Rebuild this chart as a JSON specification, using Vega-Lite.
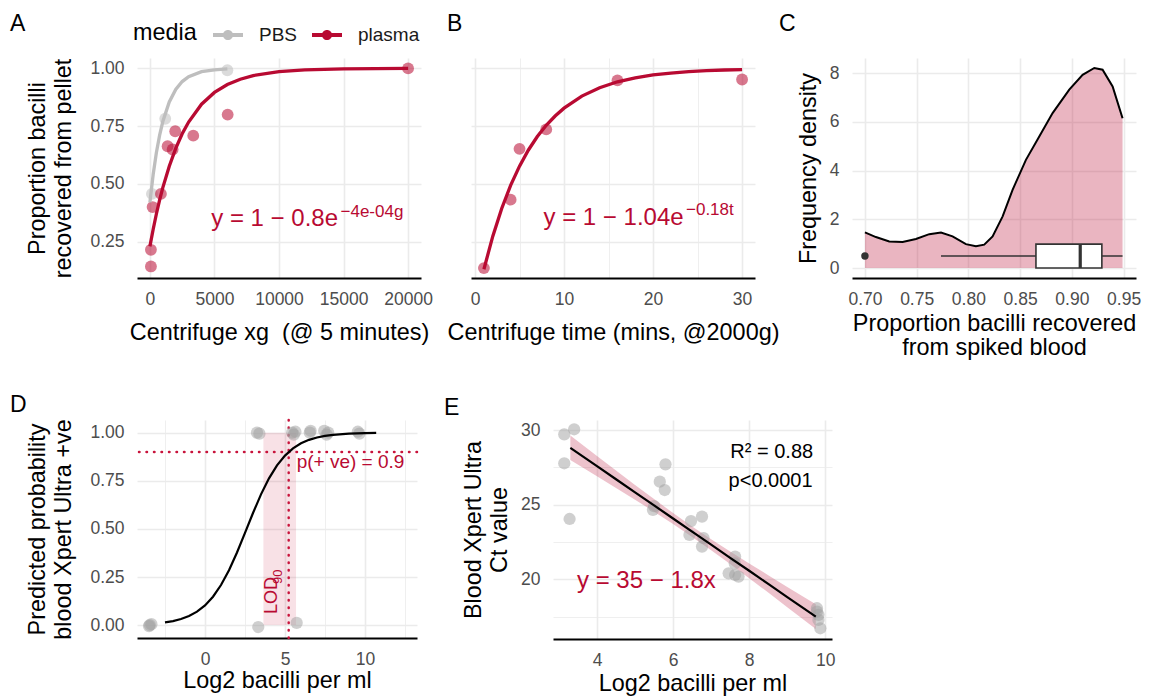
{
  "$schema": "https://vega.github.io/schema/vega-lite/v6.json",
  "padding": {"left": 10, "top": 13, "right": 5, "bottom": 5},
  "config": {
    "font": "Liberation Sans",
    "view": {"stroke": null},
    "axis": {"domain": false, "ticks": false, "tickSize": 0, "grid": true, "gridColor": "#EBEBEB", "labelFont": "Liberation Sans", "labelFontSize": 17.5, "labelColor": "#4D4D4D", "titleFont": "Liberation Sans", "titleFontSize": 23.4, "titleFontWeight": "normal", "titleColor": "#000000", "labelFlush": false, "labelOverlap": false, "titleLineHeight": 26},
    "axisX": {"domain": true, "domainColor": "#000000", "domainWidth": 2.2, "labelPadding": 12, "titlePadding": 14},
    "axisY": {"labelPadding": 13, "titlePadding": 14},
    "title": {"font": "Liberation Sans", "fontSize": 23, "fontWeight": "normal", "anchor": "start", "frame": "group", "offset": 0, "baseline": "alphabetic", "color": "#000000"},
    "text": {"font": "Liberation Sans"}
  },
  "datasets": {
    "curveA": [
      {"media": "PBS", "g": 0, "p": 0.42}, {"media": "PBS", "g": 250, "p": 0.54}, {"media": "PBS", "g": 500, "p": 0.635}, {"media": "PBS", "g": 750, "p": 0.71}, {"media": "PBS", "g": 1000, "p": 0.77}, {"media": "PBS", "g": 1500, "p": 0.855}, {"media": "PBS", "g": 2000, "p": 0.909}, {"media": "PBS", "g": 2500, "p": 0.943}, {"media": "PBS", "g": 3000, "p": 0.964}, {"media": "PBS", "g": 4000, "p": 0.986}, {"media": "PBS", "g": 5000, "p": 0.994}, {"media": "PBS", "g": 6000, "p": 0.998},
      {"media": "plasma", "g": 0, "p": 0.23}, {"media": "plasma", "g": 250, "p": 0.303}, {"media": "plasma", "g": 500, "p": 0.37}, {"media": "plasma", "g": 750, "p": 0.43}, {"media": "plasma", "g": 1000, "p": 0.484}, {"media": "plasma", "g": 1500, "p": 0.577}, {"media": "plasma", "g": 2000, "p": 0.654}, {"media": "plasma", "g": 2500, "p": 0.717}, {"media": "plasma", "g": 3000, "p": 0.768}, {"media": "plasma", "g": 4000, "p": 0.845}, {"media": "plasma", "g": 5000, "p": 0.896}, {"media": "plasma", "g": 6000, "p": 0.93}, {"media": "plasma", "g": 7000, "p": 0.953}, {"media": "plasma", "g": 8000, "p": 0.969}, {"media": "plasma", "g": 10000, "p": 0.986}, {"media": "plasma", "g": 12000, "p": 0.994}, {"media": "plasma", "g": 15000, "p": 0.998}, {"media": "plasma", "g": 20000, "p": 1.0}
    ],
    "pointsA": [
      {"media": "PBS", "g": 155, "p": 0.457}, {"media": "PBS", "g": 1186, "p": 0.782}, {"media": "PBS", "g": 6000, "p": 0.992},
      {"media": "plasma", "g": 78, "p": 0.143}, {"media": "plasma", "g": 78, "p": 0.215}, {"media": "plasma", "g": 209, "p": 0.4}, {"media": "plasma", "g": 853, "p": 0.457}, {"media": "plasma", "g": 1372, "p": 0.663}, {"media": "plasma", "g": 1760, "p": 0.649}, {"media": "plasma", "g": 1961, "p": 0.728}, {"media": "plasma", "g": 3357, "p": 0.709}, {"media": "plasma", "g": 6023, "p": 0.8}, {"media": "plasma", "g": 20000, "p": 1.0}
    ],
    "curveB": [
      {"t": 1, "p": 0.131}, {"t": 2, "p": 0.274}, {"t": 3, "p": 0.394}, {"t": 4, "p": 0.494}, {"t": 5, "p": 0.577}, {"t": 6, "p": 0.647}, {"t": 7, "p": 0.705}, {"t": 8, "p": 0.754}, {"t": 9, "p": 0.794}, {"t": 10, "p": 0.828}, {"t": 12, "p": 0.88}, {"t": 14, "p": 0.916}, {"t": 16, "p": 0.942}, {"t": 18, "p": 0.959}, {"t": 20, "p": 0.972}, {"t": 22, "p": 0.98}, {"t": 24, "p": 0.986}, {"t": 26, "p": 0.99}, {"t": 28, "p": 0.993}, {"t": 30, "p": 0.995}
    ],
    "pointsB": [
      {"t": 1, "p": 0.136}, {"t": 4, "p": 0.432}, {"t": 5, "p": 0.652}, {"t": 8, "p": 0.736}, {"t": 16, "p": 0.948}, {"t": 30, "p": 0.952}
    ],
    "densityC": [
      {"x": 0.7, "d": 1.46}, {"x": 0.7106, "d": 1.27}, {"x": 0.7235, "d": 1.09}, {"x": 0.7364, "d": 1.07}, {"x": 0.7493, "d": 1.19}, {"x": 0.7622, "d": 1.39}, {"x": 0.7735, "d": 1.46}, {"x": 0.7847, "d": 1.3}, {"x": 0.7976, "d": 0.98}, {"x": 0.8073, "d": 0.89}, {"x": 0.8153, "d": 0.96}, {"x": 0.8234, "d": 1.3}, {"x": 0.8331, "d": 2.12}, {"x": 0.8427, "d": 3.21}, {"x": 0.8556, "d": 4.44}, {"x": 0.8685, "d": 5.4}, {"x": 0.8814, "d": 6.36}, {"x": 0.8975, "d": 7.32}, {"x": 0.9104, "d": 7.93}, {"x": 0.9217, "d": 8.21}, {"x": 0.9297, "d": 8.14}, {"x": 0.9394, "d": 7.45}, {"x": 0.949, "d": 6.15}
    ],
    "boxC": [
      {"lo": 0.7735, "q1": 0.8653, "med": 0.9081, "q3": 0.929, "hi": 0.949, "ymin": 0, "ymid": 0.49, "ymax": 0.98}
    ],
    "outlierC": [{"x": 0.7, "d": 0.49}],
    "pointsD": [
      {"x": 3.25, "y": 1.0}, {"x": 3.4, "y": 0.995}, {"x": 5.45, "y": 1.0}, {"x": 5.55, "y": 0.99}, {"x": 5.65, "y": 1.005}, {"x": 6.55, "y": 1.0}, {"x": 6.6, "y": 1.01}, {"x": 7.45, "y": 1.01}, {"x": 7.6, "y": 0.99}, {"x": 7.7, "y": 1.0}, {"x": 9.55, "y": 1.005}, {"x": 9.65, "y": 0.995},
      {"x": -3.45, "y": 0.0}, {"x": -3.35, "y": 0.005}, {"x": -3.5, "y": -0.005}, {"x": 3.33, "y": -0.01}, {"x": 5.73, "y": 0.012}
    ],
    "curveD": [
      {"x": -2.5, "y": 0.014}, {"x": -2, "y": 0.021}, {"x": -1.5, "y": 0.0316}, {"x": -1, "y": 0.0472}, {"x": -0.5, "y": 0.0699}, {"x": 0, "y": 0.1024}, {"x": 0.5, "y": 0.1476}, {"x": 1, "y": 0.2082}, {"x": 1.5, "y": 0.2852}, {"x": 2, "y": 0.3773}, {"x": 2.5, "y": 0.4791}, {"x": 3, "y": 0.5827}, {"x": 3.5, "y": 0.6795}, {"x": 4, "y": 0.7629}, {"x": 4.5, "y": 0.8302}, {"x": 5, "y": 0.8812}, {"x": 5.5, "y": 0.9185}, {"x": 6, "y": 0.9447}, {"x": 6.5, "y": 0.9629}, {"x": 7, "y": 0.9752}, {"x": 7.5, "y": 0.9836}, {"x": 8, "y": 0.9891}, {"x": 9, "y": 0.9952}, {"x": 10, "y": 0.9979}, {"x": 10.7, "y": 0.9988}
    ],
    "pointsE": [
      {"x": 3.14, "y": 29.71}, {"x": 3.4, "y": 30.05}, {"x": 3.14, "y": 27.77}, {"x": 3.28, "y": 24.04}, {"x": 5.47, "y": 24.65}, {"x": 5.5, "y": 24.9}, {"x": 5.65, "y": 26.54}, {"x": 5.8, "y": 27.7}, {"x": 5.78, "y": 25.98}, {"x": 6.47, "y": 23.9}, {"x": 6.43, "y": 22.97}, {"x": 6.76, "y": 24.2}, {"x": 6.76, "y": 22.19}, {"x": 6.8, "y": 22.76}, {"x": 7.63, "y": 21.52}, {"x": 7.62, "y": 21.07}, {"x": 7.63, "y": 20.29}, {"x": 7.72, "y": 20.18}, {"x": 7.46, "y": 20.4}, {"x": 9.78, "y": 18.06}, {"x": 9.82, "y": 17.62}, {"x": 9.82, "y": 17.28}, {"x": 9.87, "y": 16.72}, {"x": 9.78, "y": 17.84}
    ],
    "fitE": [
      {"x": 3.3, "y": 28.805, "lo": 27.985, "hi": 29.625}, {"x": 4, "y": 27.578, "lo": 26.901, "hi": 28.255}, {"x": 4.5, "y": 26.7, "lo": 26.119, "hi": 27.281}, {"x": 5, "y": 25.825, "lo": 25.332, "hi": 26.318}, {"x": 5.5, "y": 24.95, "lo": 24.53, "hi": 25.37}, {"x": 6, "y": 24.07, "lo": 23.701, "hi": 24.439}, {"x": 6.5, "y": 23.19, "lo": 22.84, "hi": 23.54}, {"x": 7, "y": 22.32, "lo": 21.951, "hi": 22.689}, {"x": 7.5, "y": 21.44, "lo": 21.02, "hi": 21.86}, {"x": 8, "y": 20.57, "lo": 20.077, "hi": 21.063}, {"x": 8.5, "y": 19.69, "lo": 19.109, "hi": 20.271}, {"x": 9, "y": 18.81, "lo": 18.133, "hi": 19.487}, {"x": 9.75, "y": 17.5, "lo": 16.67, "hi": 18.33}
    ]
  },
  "vconcat": [
    {
      "bounds": "full",
      "spacing": 0,
      "resolve": {"scale": {"x": "independent", "y": "independent"}, "axis": {"x": "independent", "y": "independent"}},
      "hconcat": [
        {
          "bounds": "flush",
          "spacing": 50,
          "resolve": {"scale": {"x": "independent", "y": "independent"}, "axis": {"x": "independent", "y": "independent"}},
          "hconcat": [
            {
              "width": 284, "height": 220,
              "title": {"text": "A", "dx": -127, "dy": -18},
              "resolve": {"axis": {"y": "independent"}},
              "layer": [
                {
                  "data": {"name": "pointsA"},
                  "mark": {"type": "point", "filled": true, "size": 140, "opacity": 0.55},
                  "encoding": {
                    "x": {"field": "g", "type": "quantitative", "scale": {"domain": [-1000, 21000], "nice": false, "zero": false},
                      "axis": {"title": "Centrifuge xg \u00a0(@ 5 minutes)", "domain": true, "domainColor": "#000000", "domainWidth": 2.2, "values": [0, 2500, 5000, 7500, 10000, 12500, 15000, 17500, 20000], "format": "d", "labelExpr": "datum.value % 5000 === 0 ? datum.label : ''", "gridWidth": {"condition": {"test": "datum.value % 5000 === 0", "value": 1.6}, "value": 0.8}}},
                    "y": {"field": "p", "type": "quantitative", "scale": {"domain": [0.093, 1.045], "nice": false, "zero": false},
                      "axis": {"orient": "left", "title": ["Proportion bacilli", "recovered from pellet"], "values": [0.25, 0.5, 0.75, 1], "format": ".2f", "labelFontSize": 17.5, "labelColor": "#4D4D4D", "gridWidth": 1.6}},
                    "color": {"field": "media", "type": "nominal", "scale": {"domain": ["PBS", "plasma"], "range": ["#BEBEBE", "#B80A32"]},
                      "legend": {"orient": "none", "legendX": -4, "legendY": -38, "direction": "horizontal", "title": "media", "titleOrient": "left", "titleFontSize": 23.4, "titleFontWeight": "normal", "titleColor": "#000000", "titleBaseline": "middle", "titlePadding": 16, "labelFontSize": 19, "labelColor": "#1A1A1A", "labelOffset": 16, "columnPadding": 14, "symbolType": "M-1,-0.14H1V0.14H-1Z M-0.34,0A0.34,0.34 0 1,1 0.34,0A0.34,0.34 0 1,1 -0.34,0Z", "symbolSize": 900, "symbolStrokeWidth": 0, "symbolOpacity": 1}}
                  }
                },
                {
                  "data": {"name": "curveA"},
                  "mark": {"type": "line", "strokeWidth": 3.3},
                  "encoding": {
                    "x": {"field": "g", "type": "quantitative", "scale": {"domain": [-1000, 21000], "nice": false, "zero": false}},
                    "y": {"field": "p", "type": "quantitative", "scale": {"domain": [0.093, 1.045], "nice": false, "zero": false},
                      "axis": {"orient": "right", "title": null, "labels": false, "domain": false, "values": [0.125, 0.375, 0.625, 0.875], "gridWidth": 0.8}},
                    "stroke": {"field": "media", "type": "nominal", "scale": {"domain": ["PBS", "plasma"], "range": ["#BEBEBE", "#B80A32"]}, "legend": null}
                  }
                },
                {
                  "data": {"values": [{"g": 14571, "p": 0.32, "label": "y = 1 − 0.8e"}]},
                  "mark": {"type": "text", "align": "right", "baseline": "alphabetic", "fontSize": 24, "color": "#B80A32"},
                  "encoding": {
                    "x": {"field": "g", "type": "quantitative", "scale": {"domain": [-1000, 21000], "nice": false, "zero": false}},
                    "y": {"field": "p", "type": "quantitative", "scale": {"domain": [0.093, 1.045], "nice": false, "zero": false}, "axis": null},
                    "text": {"field": "label"}
                  }
                },
                {
                  "data": {"values": [{"g": 14765, "p": 0.358, "label": "−4e-04g"}]},
                  "mark": {"type": "text", "align": "left", "baseline": "alphabetic", "fontSize": 17, "color": "#B80A32"},
                  "encoding": {
                    "x": {"field": "g", "type": "quantitative", "scale": {"domain": [-1000, 21000], "nice": false, "zero": false}},
                    "y": {"field": "p", "type": "quantitative", "scale": {"domain": [0.093, 1.045], "nice": false, "zero": false}, "axis": null},
                    "text": {"field": "label"}
                  }
                }
              ]
            },
            {
              "width": 284, "height": 220,
              "title": {"text": "B", "dx": -24, "dy": -18},
              "resolve": {"axis": {"y": "independent"}},
              "layer": [
                {
                  "data": {"name": "pointsB"},
                  "mark": {"type": "point", "filled": true, "size": 140, "opacity": 0.55, "color": "#B80A32"},
                  "encoding": {
                    "x": {"field": "t", "type": "quantitative", "scale": {"domain": [-0.45, 31.45], "nice": false, "zero": false},
                      "axis": {"title": "Centrifuge time (mins, @2000g)", "domain": true, "domainColor": "#000000", "domainWidth": 2.2, "values": [0, 5, 10, 15, 20, 25, 30], "format": "d", "labelExpr": "datum.value % 10 === 0 ? datum.label : ''", "gridWidth": {"condition": {"test": "datum.value % 10 === 0", "value": 1.6}, "value": 0.8}}},
                    "y": {"field": "p", "type": "quantitative", "scale": {"domain": [0.093, 1.045], "nice": false, "zero": false},
                      "axis": {"orient": "left", "title": null, "labels": false, "values": [0.25, 0.5, 0.75, 1], "gridWidth": 1.6}}
                  }
                },
                {
                  "data": {"name": "curveB"},
                  "mark": {"type": "line", "strokeWidth": 3.3, "color": "#B80A32"},
                  "encoding": {
                    "x": {"field": "t", "type": "quantitative", "scale": {"domain": [-0.45, 31.45], "nice": false, "zero": false}},
                    "y": {"field": "p", "type": "quantitative", "scale": {"domain": [0.093, 1.045], "nice": false, "zero": false},
                      "axis": {"orient": "right", "title": null, "labels": false, "domain": false, "values": [0.125, 0.375, 0.625, 0.875], "gridWidth": 0.8}}
                  }
                },
                {
                  "data": {"values": [{"t": 23.43, "p": 0.322, "label": "y = 1 − 1.04e"}]},
                  "mark": {"type": "text", "align": "right", "baseline": "alphabetic", "fontSize": 24, "color": "#B80A32"},
                  "encoding": {
                    "x": {"field": "t", "type": "quantitative", "scale": {"domain": [-0.45, 31.45], "nice": false, "zero": false}},
                    "y": {"field": "p", "type": "quantitative", "scale": {"domain": [0.093, 1.045], "nice": false, "zero": false}, "axis": null},
                    "text": {"field": "label"}
                  }
                },
                {
                  "data": {"values": [{"t": 23.7, "p": 0.366, "label": "−0.18t"}]},
                  "mark": {"type": "text", "align": "left", "baseline": "alphabetic", "fontSize": 17, "color": "#B80A32"},
                  "encoding": {
                    "x": {"field": "t", "type": "quantitative", "scale": {"domain": [-0.45, 31.45], "nice": false, "zero": false}},
                    "y": {"field": "p", "type": "quantitative", "scale": {"domain": [0.093, 1.045], "nice": false, "zero": false}, "axis": null},
                    "text": {"field": "label"}
                  }
                }
              ]
            }
          ]
        },
        {
          "width": 284, "height": 220,
          "title": {"text": "C", "dx": -73, "dy": -18},
          "layer": [
            {
              "data": {"name": "densityC"},
              "mark": {"type": "area", "color": "#B80A32", "opacity": 0.3},
              "encoding": {
                "x": {"field": "x", "type": "quantitative", "scale": {"domain": [0.6875, 0.962], "nice": false, "zero": false},
                  "axis": {"title": ["Proportion bacilli recovered", "from spiked blood"], "titleLineHeight": 24, "titlePadding": 5, "domain": true, "domainColor": "#000000", "domainWidth": 2.2, "values": [0.7, 0.725, 0.75, 0.775, 0.8, 0.825, 0.85, 0.875, 0.9, 0.925, 0.95], "format": ".2f", "labelExpr": "abs(datum.value*20 - round(datum.value*20)) < 0.000001 ? datum.label : ''", "gridWidth": {"condition": {"test": "abs(datum.value*20 - round(datum.value*20)) < 0.000001", "value": 1.6}, "value": 0.8}}},
                "y": {"field": "d", "type": "quantitative", "scale": {"domain": [-0.41, 8.62], "nice": false, "zero": false},
                  "axis": {"title": "Frequency density", "titlePadding": 9, "values": [0, 1, 2, 3, 4, 5, 6, 7, 8], "format": "d", "labelExpr": "datum.value % 2 === 0 ? datum.label : ''", "gridWidth": {"condition": {"test": "datum.value % 2 === 0", "value": 1.6}, "value": 0.8}}},
                "y2": {"datum": 0}
              }
            },
            {
              "data": {"name": "densityC"},
              "mark": {"type": "line", "color": "#000000", "strokeWidth": 2},
              "encoding": {
                "x": {"field": "x", "type": "quantitative", "scale": {"domain": [0.6875, 0.962], "nice": false, "zero": false}},
                "y": {"field": "d", "type": "quantitative", "scale": {"domain": [-0.41, 8.62], "nice": false, "zero": false}}
              }
            },
            {
              "data": {"name": "boxC"},
              "mark": {"type": "rule", "color": "#333333", "strokeWidth": 1.6},
              "encoding": {
                "x": {"field": "lo", "type": "quantitative", "scale": {"domain": [0.6875, 0.962], "nice": false, "zero": false}},
                "x2": {"field": "hi"},
                "y": {"field": "ymid", "type": "quantitative", "scale": {"domain": [-0.41, 8.62], "nice": false, "zero": false}}
              }
            },
            {
              "data": {"name": "boxC"},
              "mark": {"type": "rect", "fill": "#FFFFFF", "stroke": "#333333", "strokeWidth": 1.6},
              "encoding": {
                "x": {"field": "q1", "type": "quantitative", "scale": {"domain": [0.6875, 0.962], "nice": false, "zero": false}},
                "x2": {"field": "q3"},
                "y": {"field": "ymin", "type": "quantitative", "scale": {"domain": [-0.41, 8.62], "nice": false, "zero": false}},
                "y2": {"field": "ymax"}
              }
            },
            {
              "data": {"name": "boxC"},
              "mark": {"type": "rule", "color": "#333333", "strokeWidth": 3.2},
              "encoding": {
                "x": {"field": "med", "type": "quantitative", "scale": {"domain": [0.6875, 0.962], "nice": false, "zero": false}},
                "y": {"field": "ymin", "type": "quantitative", "scale": {"domain": [-0.41, 8.62], "nice": false, "zero": false}},
                "y2": {"field": "ymax"}
              }
            },
            {
              "data": {"name": "outlierC"},
              "mark": {"type": "circle", "color": "#333333", "size": 55, "opacity": 1},
              "encoding": {
                "x": {"field": "x", "type": "quantitative", "scale": {"domain": [0.6875, 0.962], "nice": false, "zero": false}},
                "y": {"field": "d", "type": "quantitative", "scale": {"domain": [-0.41, 8.62], "nice": false, "zero": false}}
              }
            }
          ]
        }
      ]
    },
    {
      "bounds": "flush",
      "spacing": 136,
      "resolve": {"scale": {"x": "independent", "y": "independent"}, "axis": {"x": "independent", "y": "independent"}},
      "hconcat": [
        {
          "width": 280, "height": 218,
          "title": {"text": "D", "dx": -127, "dy": 2.4},
          "layer": [
            {
              "data": {"values": [{"x": 3.65, "x2": 5.69, "y": 0, "y2": 1}]},
              "mark": {"type": "rect", "color": "#C8143C", "opacity": 0.13},
              "encoding": {
                "x": {"field": "x", "type": "quantitative", "scale": {"domain": [-4.25, 13.25], "nice": false, "zero": false},
                  "axis": {"title": "Log2 bacilli per ml", "titlePadding": 2, "values": [-2.5, 0, 2.5, 5, 7.5, 10, 12.5], "format": "d", "labelExpr": "datum.value % 5 === 0 ? datum.label : ''", "gridWidth": {"condition": {"test": "datum.value % 5 === 0", "value": 1.6}, "value": 0.8}}},
                "x2": {"field": "x2"},
                "y": {"field": "y", "type": "quantitative", "scale": {"domain": [-0.067, 1.066], "nice": false, "zero": false},
                  "axis": {"title": ["Predicted probability", "blood Xpert Ultra +ve"], "values": [0, 0.125, 0.25, 0.375, 0.5, 0.625, 0.75, 0.875, 1], "format": ".2f", "labelExpr": "(datum.value*4) % 1 === 0 ? datum.label : ''", "gridWidth": {"condition": {"test": "(datum.value*4) % 1 === 0", "value": 1.6}, "value": 0.8}}},
                "y2": {"field": "y2"}
              }
            },
            {
              "data": {"values": [{"y": 0.9}]},
              "mark": {"type": "rule", "color": "#C8143C", "strokeWidth": 2.5, "strokeDash": [0.5, 7], "strokeCap": "round"},
              "encoding": {
                "y": {"field": "y", "type": "quantitative", "scale": {"domain": [-0.067, 1.066], "nice": false, "zero": false}}
              }
            },
            {
              "data": {"values": [{"x": 5.23}]},
              "mark": {"type": "rule", "color": "#C8143C", "strokeWidth": 2.5, "strokeDash": [0.5, 7], "strokeCap": "round"},
              "encoding": {
                "x": {"field": "x", "type": "quantitative", "scale": {"domain": [-4.25, 13.25], "nice": false, "zero": false}}
              }
            },
            {
              "data": {"name": "pointsD"},
              "mark": {"type": "circle", "color": "#A0A0A0", "size": 150, "opacity": 0.5},
              "encoding": {
                "x": {"field": "x", "type": "quantitative", "scale": {"domain": [-4.25, 13.25], "nice": false, "zero": false}},
                "y": {"field": "y", "type": "quantitative", "scale": {"domain": [-0.067, 1.066], "nice": false, "zero": false}}
              }
            },
            {
              "data": {"name": "curveD"},
              "mark": {"type": "line", "color": "#000000", "strokeWidth": 2.2},
              "encoding": {
                "x": {"field": "x", "type": "quantitative", "scale": {"domain": [-4.25, 13.25], "nice": false, "zero": false}},
                "y": {"field": "y", "type": "quantitative", "scale": {"domain": [-0.067, 1.066], "nice": false, "zero": false}}
              }
            },
            {
              "data": {"values": [{"x": 5.73, "y": 0.8165, "label": "p(+ ve) = 0.9"}]},
              "mark": {"type": "text", "align": "left", "baseline": "alphabetic", "fontSize": 19, "color": "#B80A32"},
              "encoding": {
                "x": {"field": "x", "type": "quantitative", "scale": {"domain": [-4.25, 13.25], "nice": false, "zero": false}},
                "y": {"field": "y", "type": "quantitative", "scale": {"domain": [-0.067, 1.066], "nice": false, "zero": false}},
                "text": {"field": "label"}
              }
            },
            {
              "data": {"values": [{"x": 4.48, "y": 0.058, "label": "LOD"}]},
              "mark": {"type": "text", "align": "left", "baseline": "alphabetic", "angle": 270, "fontSize": 18, "color": "#B80A32"},
              "encoding": {
                "x": {"field": "x", "type": "quantitative", "scale": {"domain": [-4.25, 13.25], "nice": false, "zero": false}},
                "y": {"field": "y", "type": "quantitative", "scale": {"domain": [-0.067, 1.066], "nice": false, "zero": false}},
                "text": {"field": "label"}
              }
            },
            {
              "data": {"values": [{"x": 4.79, "y": 0.2136, "label": "90"}]},
              "mark": {"type": "text", "align": "left", "baseline": "alphabetic", "angle": 270, "fontSize": 13, "color": "#B80A32"},
              "encoding": {
                "x": {"field": "x", "type": "quantitative", "scale": {"domain": [-4.25, 13.25], "nice": false, "zero": false}},
                "y": {"field": "y", "type": "quantitative", "scale": {"domain": [-0.067, 1.066], "nice": false, "zero": false}},
                "text": {"field": "label"}
              }
            }
          ]
        },
        {
          "width": 279, "height": 219,
          "title": {"text": "E", "dx": -109, "dy": 4},
          "resolve": {"axis": {"x": "independent"}},
          "layer": [
            {
              "data": {"name": "fitE"},
              "mark": {"type": "area", "color": "#B80A32", "opacity": 0.25},
              "encoding": {
                "x": {"field": "x", "type": "quantitative", "scale": {"domain": [2.844, 10.176], "nice": false, "zero": false},
                  "axis": {"orient": "bottom", "title": "Log2 bacilli per ml", "titlePadding": 4, "values": [4, 6, 8, 10], "format": "d", "labelFontSize": 17.5, "labelColor": "#4D4D4D", "labelPadding": 12, "gridWidth": 1.6}},
                "y": {"field": "lo", "type": "quantitative", "scale": {"domain": [16.0, 30.67], "nice": false, "zero": false},
                  "axis": {"title": ["Blood Xpert Ultra", "Ct value"], "titlePadding": 9, "values": [17.5, 20, 22.5, 25, 27.5, 30], "format": "d", "labelExpr": "datum.value % 5 === 0 ? datum.label : ''", "gridWidth": {"condition": {"test": "datum.value % 5 === 0", "value": 1.6}, "value": 0.8}}},
                "y2": {"field": "hi"}
              }
            },
            {
              "data": {"name": "pointsE"},
              "mark": {"type": "circle", "color": "#A0A0A0", "size": 150, "opacity": 0.5},
              "encoding": {
                "x": {"field": "x", "type": "quantitative", "scale": {"domain": [2.844, 10.176], "nice": false, "zero": false},
                  "axis": {"orient": "top", "title": null, "labels": false, "domain": false, "values": [3, 5, 7, 9], "gridWidth": 0.8}},
                "y": {"field": "y", "type": "quantitative", "scale": {"domain": [16.0, 30.67], "nice": false, "zero": false}}
              }
            },
            {
              "data": {"name": "fitE"},
              "mark": {"type": "line", "color": "#000000", "strokeWidth": 2.2},
              "encoding": {
                "x": {"field": "x", "type": "quantitative", "scale": {"domain": [2.844, 10.176], "nice": false, "zero": false}, "axis": null},
                "y": {"field": "y", "type": "quantitative", "scale": {"domain": [16.0, 30.67], "nice": false, "zero": false}}
              }
            },
            {
              "data": {"values": [{"x": 7.504, "y": 28.145, "label": "R² = 0.88"}, {"x": 7.459, "y": 26.2, "label": "p<0.0001"}]},
              "mark": {"type": "text", "align": "left", "baseline": "alphabetic", "fontSize": 20, "color": "#000000"},
              "encoding": {
                "x": {"field": "x", "type": "quantitative", "scale": {"domain": [2.844, 10.176], "nice": false, "zero": false}, "axis": null},
                "y": {"field": "y", "type": "quantitative", "scale": {"domain": [16.0, 30.67], "nice": false, "zero": false}},
                "text": {"field": "label"}
              }
            },
            {
              "data": {"values": [{"x": 3.475, "y": 19.39, "label": "y = 35 − 1.8x"}]},
              "mark": {"type": "text", "align": "left", "baseline": "alphabetic", "fontSize": 24, "color": "#B80A32"},
              "encoding": {
                "x": {"field": "x", "type": "quantitative", "scale": {"domain": [2.844, 10.176], "nice": false, "zero": false}, "axis": null},
                "y": {"field": "y", "type": "quantitative", "scale": {"domain": [16.0, 30.67], "nice": false, "zero": false}},
                "text": {"field": "label"}
              }
            }
          ]
        }
      ]
    }
  ],
  "spacing": 35
}
